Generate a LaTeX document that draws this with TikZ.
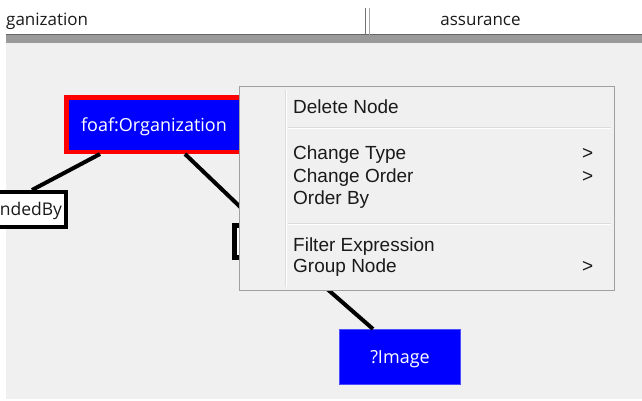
\documentclass[tikz,border=0pt]{standalone}
\usepackage{fontspec}
\setmainfont{Liberation Sans}
\newfontfamily\guifont{Open Sans}
\usetikzlibrary{positioning}
\usepackage{xcolor}
\definecolor{canvasgray}{HTML}{F0F0F0}
\definecolor{bandgray}{HTML}{9A9A9A}
\definecolor{menuborder}{HTML}{A0A0A0}
\definecolor{sepgray}{HTML}{DCDCDC}
\definecolor{menutext}{HTML}{1A1A1A}

\begin{document}
\begin{tikzpicture}[
    x=1pt, y=-1pt,
    selnode/.style={rectangle, draw=red, fill=blue, line width=4.5pt, text=white, font=\guifont\fontsize{18}{20}\selectfont, minimum width=175.5pt, minimum height=54.5pt, text height=13pt, text depth=0pt, inner sep=0pt},
    varnode/.style={rectangle, draw=blue!70!white, fill=blue, line width=1pt, text=white, font=\guifont\fontsize{18}{20}\selectfont, minimum width=121pt, minimum height=55pt, text height=13pt, text depth=0pt, inner sep=0pt},
    propnode/.style={rectangle, draw=black, fill=white, line width=4pt, text=menutext, font=\guifont\fontsize{17.5}{20}\selectfont, minimum height=35pt, text height=12.5pt, text depth=0pt, inner ysep=0pt, inner xsep=4pt},
    hidnode/.style={rectangle, draw=black, fill=white, line width=5pt, minimum width=83pt, minimum height=32pt, inner sep=0pt},
    menubox/.style={rectangle, draw=menuborder, fill=canvasgray, line width=1pt, minimum width=375pt, minimum height=204pt, inner sep=0pt},
    menuitem/.style={anchor=base west, inner sep=0pt, text=menutext, font=\fontsize{19}{22}\selectfont},
    tablabel/.style={inner sep=0pt, text=menutext, font=\guifont\fontsize{17}{20}\selectfont},
    link/.style={line width=4pt}
]

\clip (0,0) rectangle (642,400);
\fill[white] (0,0) rectangle (642,400);
\fill[canvasgray] (6,43) rectangle (642,399);
\fill[bandgray] (6,35) rectangle (642,43);
\draw[black!60, line width=1pt] (6,34.5) -- (642,34.5);
\draw[black!55, line width=1pt] (365.5,8) -- (365.5,35);
\draw[black!35, line width=1pt] (369.5,8) -- (369.5,35);

\node[tablabel, anchor=base west] (tableft) at (6,25) {ganization};
\node[tablabel, anchor=base] (tabright) at (480.5,25) {assurance};

\node[selnode] (org) at (154,124.5) {foaf:Organization};
\node[propnode, anchor=east] (funded) at (68,209.5) {fundedBy};
\node[hidnode] (hid) at (276,241.5) {};
\node[varnode] (img) at (400,357) {?Image};

\draw[link] ([xshift=-54pt]org.south) -- ([xshift=-36pt]funded.north east);
\draw[link] ([xshift=31pt]org.south) -- ([xshift=-19pt]hid.north);
\draw[link] ([xshift=18pt]hid.south) -- ([xshift=-27pt]img.north);

\node[menubox] (menu) at (427,188.5) {};
\draw[sepgray, line width=1pt] (285.5,90) -- (285.5,287);
\draw[white, line width=1pt] (286.5,90) -- (286.5,287);
\foreach \sy in {127.5, 223} {
    \draw[sepgray, line width=1pt] (288,\sy) -- (611,\sy);
    \draw[white, line width=1pt] (288,\sy+1) -- (611,\sy+1);
}

\node[menuitem] (delnode) at (293,113) {Delete Node};
\node[menuitem] (chtype) at (293,159) {Change Type};
\node[menuitem] (chorder) at (293,182.5) {Change Order};
\node[menuitem] (orderby) at (293,204.5) {Order By};
\node[menuitem] (filterexp) at (293,251) {Filter Expression};
\node[menuitem] (groupnode) at (293,272.5) {Group Node};
\foreach \sy/\nm in {159/typesub, 182.5/ordersub, 272.5/groupsub}
    \node[menuitem] (\nm) at (582,\sy) {>};

\end{tikzpicture}
\end{document}
